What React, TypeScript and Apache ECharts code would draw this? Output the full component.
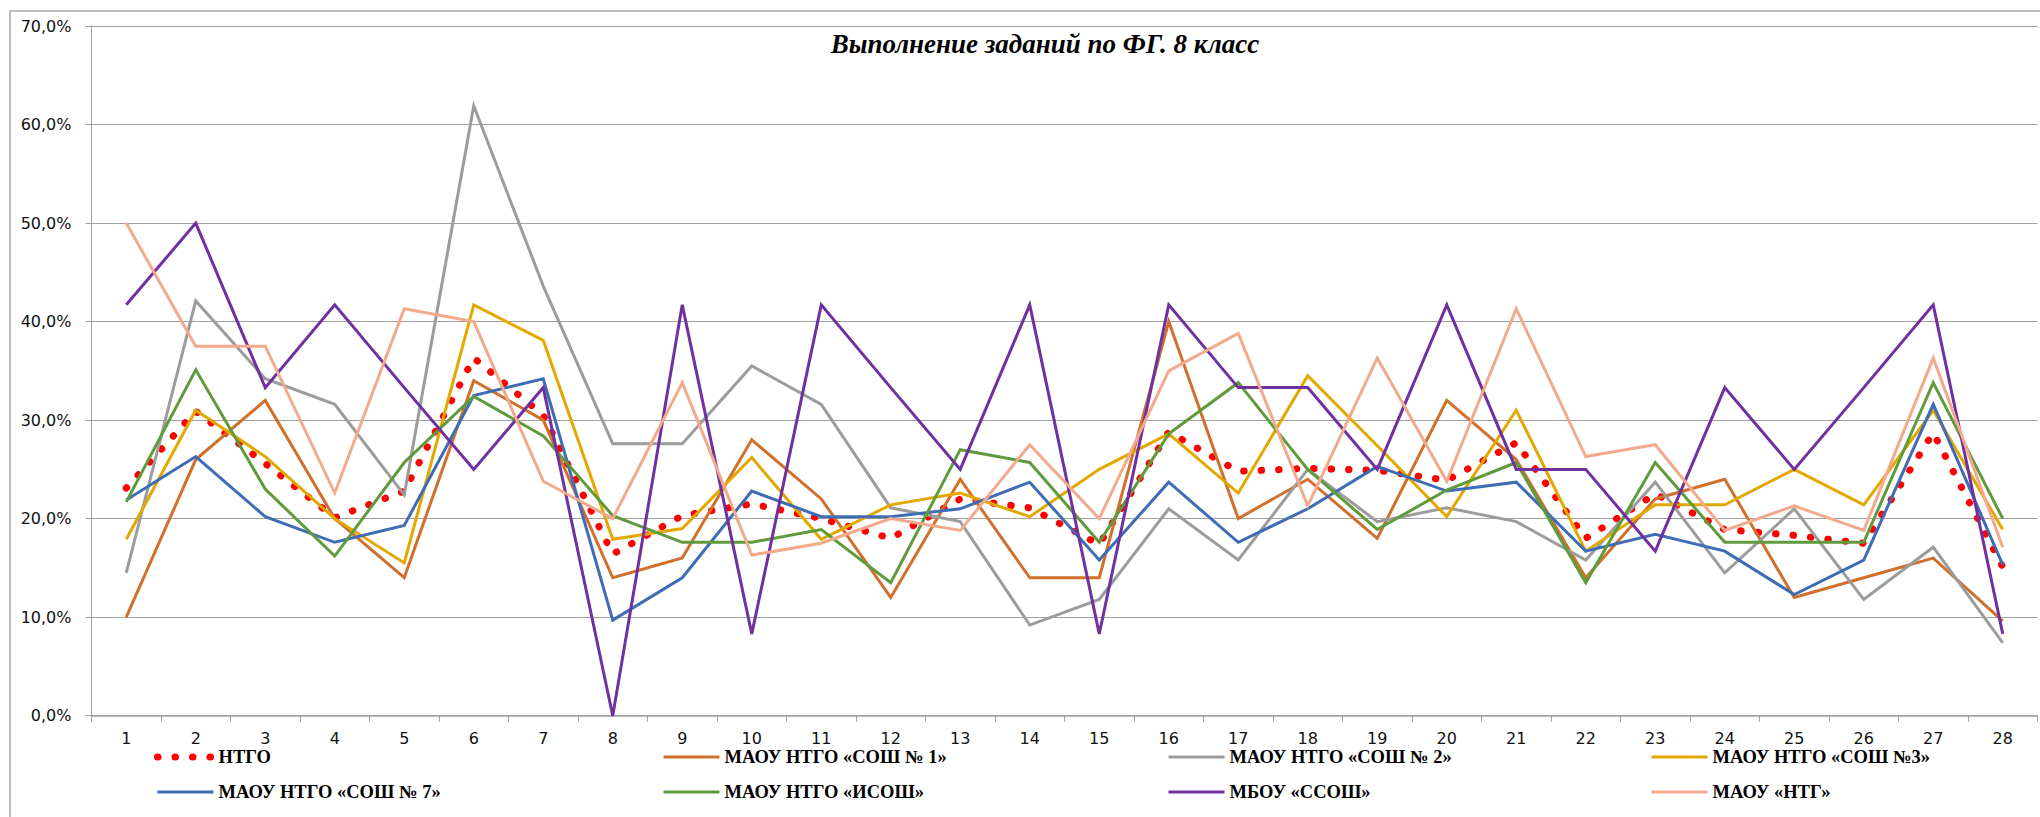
import React, { useEffect, useRef } from "react";
import * as echarts from "echarts";

const categories = ["1","2","3","4","5","6","7","8","9","10","11","12","13","14","15","16","17","18","19","20","21","22","23","24","25","26","27","28"];

const ntgo = [23.1, 30.9, 25.6, 20.1, 22.8, 36.3, 30.5, 16.4, 20.3, 21.5, 20.0, 18.0, 22.0, 21.1, 17.4, 28.8, 24.8, 25.1, 24.9, 23.9, 27.7, 18.0, 22.5, 18.9, 18.3, 17.5, 28.7, 15.1];
const sosh1 = [10.0, 26.0, 32.0, 20.0, 14.0, 34.0, 30.0, 14.0, 16.0, 28.0, 22.0, 12.0, 24.0, 14.0, 14.0, 40.0, 20.0, 24.0, 18.0, 32.0, 26.0, 14.0, 22.0, 24.0, 12.0, 14.0, 16.0, 9.6];
const sosh2 = [14.5, 42.1, 34.2, 31.6, 22.4, 61.9, 43.6, 27.6, 27.6, 35.5, 31.6, 21.1, 19.7, 9.2, 11.8, 21.0, 15.8, 25.0, 19.7, 21.1, 19.7, 15.8, 23.7, 14.5, 21.0, 11.8, 17.1, 7.4];
const sosh3 = [17.9, 31.0, 26.3, 20.0, 15.5, 41.7, 38.1, 17.9, 19.0, 26.2, 17.9, 21.4, 22.6, 20.2, 25.0, 28.6, 22.6, 34.5, 27.4, 20.2, 31.0, 16.7, 21.4, 21.4, 25.0, 21.4, 31.0, 18.9];
const sosh7 = [21.9, 26.3, 20.2, 17.6, 19.3, 32.5, 34.2, 9.7, 14.0, 22.8, 20.2, 20.2, 21.0, 23.7, 15.8, 23.7, 17.6, 21.0, 25.3, 22.8, 23.7, 16.7, 18.4, 16.7, 12.3, 15.8, 31.6, 15.3];
const isosh = [21.7, 35.1, 23.0, 16.2, 25.7, 32.4, 28.4, 20.3, 17.6, 17.6, 18.9, 13.5, 27.0, 25.7, 17.6, 28.6, 33.8, 25.0, 18.9, 22.9, 25.7, 13.5, 25.7, 17.6, 17.6, 17.6, 33.8, 20.0];
const ssosh = [41.7, 50.0, 33.3, 41.7, 33.3, 25.0, 33.3, 0, 41.7, 8.3, 41.7, 33.3, 25.0, 41.7, 8.3, 41.7, 33.3, 33.3, 25.0, 41.7, 25.0, 25.0, 16.7, 33.3, 25.0, 33.3, 41.7, 8.3];
const ntg = [50.0, 37.5, 37.5, 22.6, 41.3, 40.0, 23.8, 20.0, 33.8, 16.3, 17.5, 20.0, 18.8, 27.5, 20.0, 35.0, 38.8, 21.3, 36.3, 23.8, 41.3, 26.3, 27.5, 18.8, 21.3, 18.8, 36.3, 17.1];

const names = [
  "НТГО",
  "МАОУ НТГО «СОШ № 1»",
  "МАОУ НТГО «СОШ № 2»",
  "МАОУ НТГО «СОШ №3»",
  "МАОУ НТГО «СОШ № 7»",
  "МАОУ НТГО «ИСОШ»",
  "МБОУ «ССОШ»",
  "МАОУ «НТГ»",
];
const colors = ["#FF0000", "#D0702C", "#9C9C9C", "#E3A800", "#3F6DB5", "#5F9A3C", "#7030A0", "#F2AA8C"];
const values = [ntgo, sosh1, sosh2, sosh3, sosh7, isosh, ssosh, ntg];

const titleText = "Выполнение заданий по ФГ. 8 класс";

export default function App() {
  const ref = useRef<HTMLDivElement>(null);
  useEffect(() => {
    if (!ref.current) return;
    const chart = echarts.init(ref.current, undefined, { renderer: "svg" });
    const series = values.map((v, i) => {
      const isDot = i === 0;
      return {
        name: names[i],
        type: "line",
        data: v,
        symbol: "none",
        z: isDot ? 2 : 3,
        color: colors[i],
        lineStyle: isDot
          ? { color: colors[i], width: 7, type: [0.5, 17], cap: "round" }
          : { color: colors[i], width: 3, cap: "butt", join: "miter" },
      };
    });
    const legendText = {
      fontFamily: "'Liberation Serif', 'Times New Roman', serif",
      fontWeight: "bold",
      fontSize: 18.5,
      color: "#000",
      lineHeight: 20,
    };
    const mkItem = (i: number) => ({
      name: names[i],
      itemStyle: { opacity: 0 },
      lineStyle: i === 0
        ? { width: 7, type: [0.5, 17], cap: "round", color: colors[i], opacity: 1 }
        : { width: 3, color: colors[i], opacity: 1 },
    });
    const cols = [
      { left: 154, items: [0, 4] },
      { left: 662, items: [1, 5] },
      { left: 1167, items: [2, 6] },
      { left: 1650, items: [3, 7] },
    ];
    const legends = cols.map((c) => ({
      orient: "vertical",
      left: c.left,
      top: 747,
      itemWidth: 56,
      itemHeight: 14,
      itemGap: 15,
      padding: 0,
      data: c.items.map(mkItem),
      textStyle: legendText,
    }));
    chart.setOption({
      animation: false,
      backgroundColor: "#fff",
      title: {
        text: titleText,
        left: 1040,
        top: 25,
        textAlign: "center",
        textStyle: {
          fontFamily: "'Liberation Serif', 'Times New Roman', serif",
          fontStyle: "italic",
          fontWeight: "bold",
          fontSize: 27,
          color: "#000",
        },
      },
      graphic: [
        {
          type: "rect",
          shape: { x: 10, y: 11, width: 2100, height: 900 },
          style: { fill: "none", stroke: "#A8A8A8", lineWidth: 1.5 },
          silent: true,
        },
      ],
      legend: legends,
      grid: { left: 91.5, right: 2.5, top: 26, bottom: 101.3, containLabel: false },
      xAxis: {
        type: "category",
        data: categories,
        boundaryGap: true,
        axisLine: { lineStyle: { color: "#A0A0A0", width: 1.5 } },
        axisTick: { show: true, interval: 0, length: 6, lineStyle: { color: "#A0A0A0" } },
        axisLabel: {
          interval: 0,
          margin: 15,
          fontFamily: "'DejaVu Sans', sans-serif",
          fontSize: 16,
          color: "#111",
        },
      },
      yAxis: {
        type: "value",
        min: 0,
        max: 70,
        interval: 10,
        axisLine: { show: true, lineStyle: { color: "#A0A0A0", width: 1 } },
        axisTick: { show: true, length: 6, lineStyle: { color: "#A0A0A0" } },
        splitLine: { show: true, lineStyle: { color: "#A0A0A0", width: 1.2 } },
        axisLabel: {
          margin: 20,
          fontFamily: "'DejaVu Sans', sans-serif",
          fontSize: 16,
          color: "#111",
          formatter: (v: number) => v.toFixed(1).replace(".", ",") + "%",
        },
      },
      series,
    });
    return () => chart.dispose();
  }, []);
  return (
    <div
      ref={ref}
      style={{ position: "fixed", left: 0, top: 0, width: 2040, height: 817, background: "#fff" }}
    />
  );
}
